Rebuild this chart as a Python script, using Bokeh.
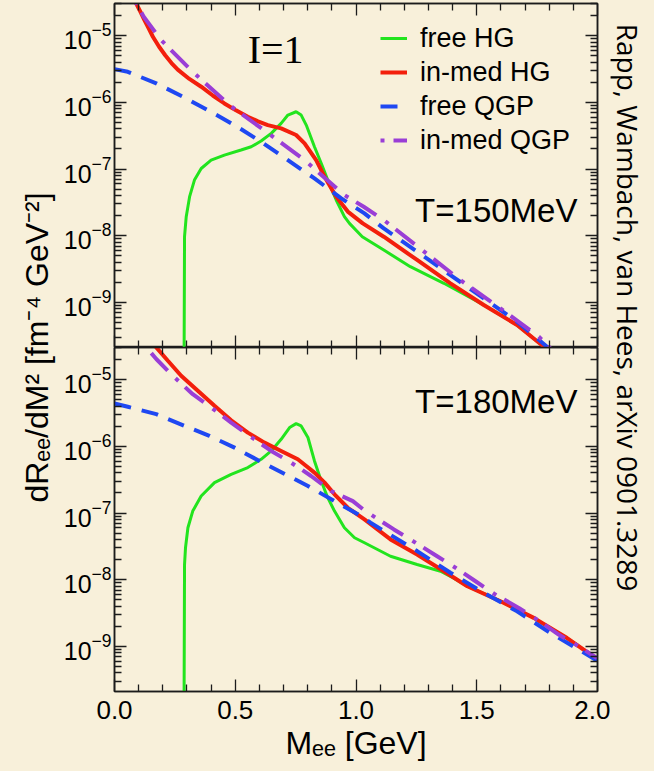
import numpy as np
from bokeh.plotting import figure
from bokeh.layouts import row, column
from bokeh.models import (Range1d, LogAxis, LinearAxis, FixedTicker, LogTickFormatter,
                          PrintfTickFormatter, Legend, LegendItem, Label)
from bokeh.embed import file_html
from bokeh.resources import INLINE

# ---------------------------------------------------------------------------
# Dilepton rates dR_ee/dM^2 [fm^-4 GeV^-2] vs invariant mass M_ee [GeV]
# ---------------------------------------------------------------------------

# T = 150 MeV
m_hg_free_150 = [0.287, 0.290, 0.297, 0.311, 0.331, 0.359, 0.400, 0.455, 0.524, 0.566, 0.607,
                 0.649, 0.690, 0.718, 0.752, 0.773, 0.794, 0.828, 0.856, 0.883, 0.918, 0.952,
                 0.973, 1.026, 1.115, 1.225, 1.364, 1.529, 1.667, 1.778, 1.850]
r_hg_free_150 = [1e-11, 9.66e-9, 1.93e-8, 3.85e-8, 6.84e-8, 1.02e-7, 1.36e-7, 1.62e-7, 1.93e-7,
                 2.16e-7, 2.63e-7, 3.43e-7, 4.84e-7, 6.46e-7, 7.24e-7, 6.46e-7, 4.57e-7, 2.16e-7,
                 1.22e-7, 6.84e-8, 3.43e-8, 1.93e-8, 1.53e-8, 9.66e-9, 6.09e-9, 3.43e-9, 1.93e-9,
                 9.12e-10, 4.57e-10, 2.16e-10, 1.1e-10]

m_hg_med_150 = [0.075, 0.090, 0.107, 0.124, 0.141, 0.159, 0.184, 0.210, 0.236, 0.262, 0.310,
                0.359, 0.407, 0.455, 0.503, 0.552, 0.594, 0.635, 0.690, 0.752, 0.787, 0.835,
                0.870, 0.918, 0.966, 1.028, 1.115, 1.253, 1.391, 1.529, 1.667, 1.778, 1.850]
r_hg_med_150 = [4.2e-5, 3.05e-5, 2.3e-5, 1.72e-5, 1.3e-5, 9.66e-6, 6.9e-6, 5.1e-6, 3.9e-6,
                3.1e-6, 2.25e-6, 1.72e-6, 1.27e-6, 9.66e-7, 7.6e-7, 6.09e-7, 5.2e-7, 4.57e-7,
                4.07e-7, 3.24e-7, 2.43e-7, 1.36e-7, 7.67e-8, 3.85e-8, 2.3e-8, 1.53e-8, 9.66e-9,
                4.32e-9, 1.93e-9, 9.12e-10, 4.57e-10, 2.16e-10, 1.1e-10]

m_qgp_free_150 = [0.000, 0.055, 0.173, 0.283, 0.386, 0.497, 0.607, 0.718, 0.828, 0.939, 0.977,
                  1.035, 1.115, 1.253, 1.391, 1.529, 1.667, 1.791, 1.850]
r_qgp_free_150 = [3.16e-6, 2.88e-6, 1.93e-6, 1.22e-6, 7.67e-7, 4.57e-7, 2.57e-7, 1.36e-7, 7.24e-8,
                  3.63e-8, 2.95e-8, 2.16e-8, 1.29e-8, 5.75e-9, 2.57e-9, 1.15e-9, 5.13e-10,
                  2.16e-10, 1.5e-10]

m_qgp_med_150 = [0.085, 0.121, 0.193, 0.324, 0.476, 0.628, 0.787, 0.952, 1.032, 1.115, 1.274,
                 1.432, 1.598, 1.757, 1.798, 1.850]
r_qgp_med_150 = [3.3e-5, 1.93e-5, 8.61e-6, 2.88e-6, 9.12e-7, 3.63e-7, 1.36e-7, 4.07e-8, 2.72e-8,
                 1.72e-8, 6.09e-9, 2.16e-9, 8.13e-10, 3.05e-10, 2.16e-10, 1.4e-10]

# T = 180 MeV
m_hg_free_180 = [0.287, 0.290, 0.294, 0.304, 0.324, 0.359, 0.414, 0.483, 0.552, 0.607, 0.649,
                 0.690, 0.725, 0.752, 0.773, 0.801, 0.828, 0.856, 0.883, 0.911, 0.952, 0.994,
                 1.035, 1.143, 1.253, 1.350, 1.405, 1.461, 1.598, 1.736, 1.874, 1.992, 2.000]
r_hg_free_180 = [1e-11, 1.69e-8, 3.01e-8, 6.01e-8, 1.07e-7, 1.80e-7, 2.86e-7, 3.81e-7, 4.81e-7,
                 6.41e-7, 8.55e-7, 1.28e-6, 1.92e-6, 2.20e-6, 2.03e-6, 1.36e-6, 6.05e-7, 3.03e-7,
                 1.70e-7, 1.07e-7, 6.01e-8, 4.26e-8, 3.58e-8, 2.25e-8, 1.69e-8, 1.34e-8, 1.05e-8,
                 7.98e-9, 4.75e-9, 2.67e-9, 1.33e-9, 6.68e-10, 6.4e-10]

m_hg_med_180 = [0.150, 0.173, 0.221, 0.276, 0.345, 0.414, 0.483, 0.552, 0.621, 0.690, 0.759,
                0.794, 0.828, 0.870, 0.911, 0.966, 1.035, 1.143, 1.253, 1.364, 1.461, 1.598,
                1.736, 1.874, 1.992, 2.000]
r_hg_med_180 = [4.2e-5, 3.06e-5, 1.93e-5, 1.15e-5, 6.84e-6, 4.07e-6, 2.47e-6, 1.61e-6, 1.14e-6,
                8.55e-7, 6.41e-7, 5.09e-7, 4.05e-7, 2.86e-7, 1.91e-7, 1.20e-7, 8.04e-8, 4.02e-8,
                2.39e-8, 1.34e-8, 7.98e-9, 4.75e-9, 2.67e-9, 1.33e-9, 6.68e-10, 6.4e-10]

m_qgp_free_180 = [0.000, 0.055, 0.173, 0.290, 0.393, 0.497, 0.600, 0.801, 0.911, 1.021, 1.060,
                  1.253, 1.391, 1.529, 1.667, 1.805, 1.992, 2.000]
r_qgp_free_180 = [4.41e-6, 3.93e-6, 3.05e-6, 2.03e-6, 1.44e-6, 9.59e-7, 6.05e-7, 2.55e-7, 1.51e-7,
                  9.02e-8, 7.16e-8, 2.69e-8, 1.27e-8, 6.34e-9, 3.36e-9, 1.59e-9, 6.31e-10, 6.1e-10]

m_qgp_med_180 = [0.120, 0.138, 0.173, 0.241, 0.324, 0.400, 0.483, 0.559, 0.649, 0.731, 0.773,
                 0.814, 0.897, 0.987, 1.039, 1.157, 1.225, 1.336, 1.412, 1.495, 1.577, 1.674,
                 1.750, 1.839, 1.922, 1.998]
r_qgp_med_180 = [3.6e-5, 2.89e-5, 2.05e-5, 1.15e-5, 6.08e-6, 3.84e-6, 2.28e-6, 1.44e-6, 8.55e-7,
                 5.71e-7, 4.54e-7, 3.60e-7, 2.14e-7, 1.51e-7, 1.07e-7, 5.68e-8, 4.02e-8, 2.25e-8,
                 1.51e-8, 9.48e-9, 5.98e-9, 3.77e-9, 2.52e-9, 1.50e-9, 1.0e-9, 6.68e-10]

series_labels = ["free HG", "in-med HG", "free QGP", "in-med QGP"]

# axis ticks
x_major = [0.0, 0.5, 1.0, 1.5, 2.0]
x_minor = [0.1, 0.2, 0.3, 0.4, 0.6, 0.7, 0.8, 0.9, 1.1, 1.2, 1.3, 1.4, 1.6, 1.7, 1.8, 1.9]
y_major = [1e-9, 1e-8, 1e-7, 1e-6, 1e-5]
y_minor_mantissa = [2, 3, 4, 5, 6, 7, 8, 9]
y_minor_decades = [1e-10, 1e-9, 1e-8, 1e-7, 1e-6, 1e-5]
y_minor = [m * d for d in y_minor_decades for m in y_minor_mantissa]

# ---------------------------------------------------------------------------
BG = "#f8f0da"
INK = "#1c1c1c"
FONT = "Liberation Sans"
STYLES = [
    dict(line_color="#22e41e", line_width=3),
    dict(line_color="#f31f0c", line_width=4),
    dict(line_color="#1f48f2", line_width=4, line_dash="17 11"),
    dict(line_color="#9a3ed6", line_width=4, line_dash="4 9 24 11"),
]
X_RANGE = (0.0, 2.0)
Y_RANGE = (2.1e-10, 3.05e-5)
FRAME_W, FRAME_H = 483, 344


def style_axis(ax, show_labels):
    ax.major_tick_in = 12
    ax.major_tick_out = 0
    ax.minor_tick_in = 7
    ax.minor_tick_out = 0
    ax.major_tick_line_color = INK
    ax.minor_tick_line_color = INK
    ax.major_tick_line_width = 1.3
    ax.minor_tick_line_width = 1.3
    ax.axis_line_color = INK
    ax.axis_line_width = 1.5
    if show_labels:
        ax.major_label_text_font = FONT
        ax.major_label_text_color = "black"
    else:
        # tick marks only: keep the labels invisible and practically sizeless
        ax.major_label_text_font_size = "0.5px"
        ax.major_label_text_alpha = 0
        ax.major_label_standoff = 0


def panel(curves, top):
    p = figure(frame_width=FRAME_W, frame_height=FRAME_H,
               x_range=Range1d(*X_RANGE), y_range=Range1d(*Y_RANGE),
               y_axis_type="log", x_axis_location=None, y_axis_location=None,
               output_backend="svg", toolbar_location=None,
               min_border_left=58, min_border_right=13,
               min_border_top=3 if top else 0, min_border_bottom=0 if top else 80,
               background_fill_color=BG, border_fill_color=BG,
               outline_line_color=INK, outline_line_width=1.5)
    p.grid.visible = False

    xt = FixedTicker(ticks=x_major, minor_ticks=x_minor)
    yt = FixedTicker(ticks=y_major, minor_ticks=y_minor)

    left = LogAxis(ticker=yt, formatter=LogTickFormatter())
    style_axis(left, True)
    left.major_label_text_font_size = "25px"
    left.major_label_standoff = 3
    p.add_layout(left, "left")

    right = LogAxis(ticker=yt)
    style_axis(right, False)
    p.add_layout(right, "right")

    above = LinearAxis(ticker=xt)
    style_axis(above, False)
    p.add_layout(above, "above")

    below = LinearAxis(ticker=xt, formatter=PrintfTickFormatter(format="%.1f"))
    style_axis(below, not top)
    if not top:
        below.major_label_text_font_size = "26px"
        below.major_label_standoff = 9
        below.axis_label = "Mₑₑ [GeV]"
        below.axis_label_text_font = FONT
        below.axis_label_text_font_size = "32px"
        below.axis_label_text_font_style = "normal"
        below.axis_label_text_color = "black"
        below.axis_label_standoff = 3
    p.add_layout(below, "below")

    renderers = []
    for (m, r), st in zip(curves, STYLES):
        renderers.append(p.line(m, r, **st))
    return p, renderers


top_curves = [(m_hg_free_150, r_hg_free_150), (m_hg_med_150, r_hg_med_150),
              (m_qgp_free_150, r_qgp_free_150), (m_qgp_med_150, r_qgp_med_150)]
bot_curves = [(m_hg_free_180, r_hg_free_180), (m_hg_med_180, r_hg_med_180),
              (m_qgp_free_180, r_qgp_free_180), (m_qgp_med_180, r_qgp_med_180)]

p_top, rs_top = panel(top_curves, True)
p_bot, _ = panel(bot_curves, False)

legend = Legend(items=[LegendItem(label=lab, renderers=[r]) for lab, r in zip(series_labels, rs_top)],
                location=(266, 190), orientation="vertical",
                background_fill_alpha=0, border_line_color=None,
                label_text_font=FONT, label_text_font_size="27px", label_text_color="black",
                glyph_width=27, glyph_height=34, label_height=34, spacing=0,
                padding=0, margin=0, label_standoff=13)
p_top.add_layout(legend)

p_top.add_layout(Label(x=0.667, y=6.2e-6, text="I=1", text_font="Liberation Serif",
                       text_font_size="40px", text_align="center", text_baseline="middle",
                       text_color="black"))
p_top.add_layout(Label(x=1.917, y=2.4e-8, text="T=150MeV", text_font=FONT,
                       text_font_size="33px", text_align="right", text_baseline="middle",
                       text_color="black"))
p_bot.add_layout(Label(x=1.917, y=4.7e-6, text="T=180MeV", text_font=FONT,
                       text_font_size="33px", text_align="right", text_baseline="middle",
                       text_color="black"))


def side_strip(width, height):
    f = figure(width=width, height=height, x_range=Range1d(0, width), y_range=Range1d(0, height),
               x_axis_location=None, y_axis_location=None, min_border=0,
               output_backend="svg", toolbar_location=None,
               background_fill_color=BG, border_fill_color=BG, outline_line_color=None)
    f.grid.visible = False
    return f


left_strip = side_strip(56, 771)
left_strip.add_layout(Label(x=36, y=424, text="dRₑₑ/dM² [fm⁻⁴ GeV⁻²]", angle=np.pi / 2,
                            text_font=FONT, text_font_size="32px", text_color="black",
                            text_align="center", text_baseline="middle"))

right_strip = side_strip(44, 771)
right_strip.add_layout(Label(x=17, y=464, text="Rapp, Wambach, van Hees, arXiv 0901.3289",
                             angle=-np.pi / 2, text_font="Open Sans", text_font_size="28px",
                             text_color="black", text_align="center", text_baseline="middle"))

layout = row(left_strip, column(p_top, p_bot, spacing=0), right_strip, spacing=0)
layout.styles = {"background-color": BG}

open("out.html", "w").write(file_html(layout, INLINE, title="Dilepton rates"))
